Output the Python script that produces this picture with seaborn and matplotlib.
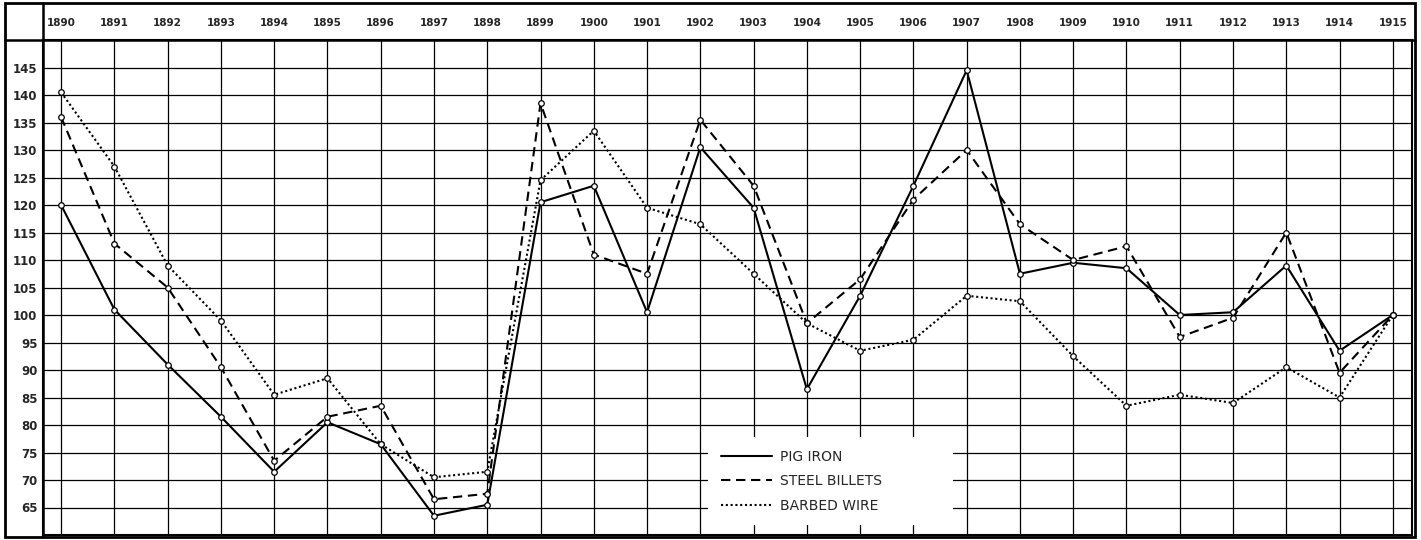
import pandas as pd
import seaborn as sns
import matplotlib.pyplot as plt
from matplotlib.lines import Line2D
from matplotlib.patches import Rectangle

# values (index numbers, 1915 = 100)
years = list(range(1890, 1916))
pig_iron = [120, 101, 91, 81.5, 71.5, 80.5, 76.5, 63.5, 65.5, 120.5, 123.5, 100.5, 130.5,
            119.5, 86.5, 103.5, 123.5, 144.5, 107.5, 109.5, 108.5, 100, 100.5, 109, 93.5, 100]
steel_billets = [136, 113, 105, 90.5, 73.5, 81.5, 83.5, 66.5, 67.5, 138.5, 111, 107.5, 135.5,
                 123.5, 98.5, 106.5, 121, 130, 116.5, 110, 112.5, 96, 99.5, 115, 89.5, 100]
barbed_wire = [140.5, 127, 109, 99, 85.5, 88.5, 76.5, 70.5, 71.5, 124.5, 133.5, 119.5, 116.5,
               107.5, 98.5, 93.5, 95.5, 103.5, 102.5, 92.5, 83.5, 85.5, 84, 90.5, 85, 100]
series_names = ["PIG IRON", "STEEL BILLETS", "BARBED WIRE"]
y_ticks = list(range(65, 150, 5))

df = pd.DataFrame({
    "year": years * 3,
    "value": pig_iron + steel_billets + barbed_wire,
    "series": [n for n in series_names for _ in years],
})

sns.set_style("white")
plt.rcParams["font.family"] = ["DejaVu Sans"]

W, H = 1421, 540
fig = plt.figure(figsize=(W / 100, H / 100), dpi=100)
ax = fig.add_axes([43 / W, 5 / H, 1369 / W, 495 / H])

sns.lineplot(data=df, x="year", y="value", style="series", color="black",
             dashes={series_names[0]: "", series_names[1]: (4.5, 2.7), series_names[2]: (1, 1.3)},
             markers={n: "o" for n in series_names}, markersize=4,
             markerfacecolor="white", markeredgecolor="black", markeredgewidth=0.9,
             linewidth=1.5, sort=False, ax=ax)

ax.set_xlim(1889.66, 1915.36)
ax.set_ylim(60, 150)
ax.set_xticks(years)
ax.set_yticks(y_ticks)
ax.xaxis.tick_top()
ax.tick_params(axis="x", length=0, pad=9, labelsize=7.5)
ax.tick_params(axis="y", length=0, pad=4, labelsize=8.5)
for lab in ax.get_xticklabels() + ax.get_yticklabels():
    lab.set_fontweight("bold")
ax.set_xlabel("")
ax.set_ylabel("")
ax.set_axisbelow(True)
ax.grid(True, color="black", linewidth=0.9)
for s in ax.spines.values():
    s.set_color("black")
    s.set_linewidth(1.5)

# legend without markers, on a white patch over the grid
old = ax.get_legend()
handles = old.legend_handles
labels = [t.get_text() for t in old.texts]
old.remove()
for h in handles:
    h.set_marker("")
    h.set_linewidth(1.5)
leg = ax.legend(handles, labels, loc="lower left", mode="expand",
                bbox_to_anchor=((708 - 43) / 1369, 10 / 495, (953 - 708) / 1369, 0.3),
                frameon=True, facecolor="white", edgecolor="none", framealpha=1,
                fancybox=False, borderpad=0.9, borderaxespad=0, handlelength=3.7,
                handletextpad=0.6, labelspacing=0.75, fontsize=10)
leg.set_zorder(5)

# outer frame, header row and label column
fig.add_artist(Rectangle((5 / W, 3 / H), 1410 / W, 534 / H, transform=fig.transFigure,
                         fill=False, edgecolor="black", linewidth=2))
fig.add_artist(Line2D([5 / W, 1415 / W], [500 / H, 500 / H], transform=fig.transFigure,
                      color="black", linewidth=1.8))
fig.add_artist(Line2D([43 / W, 43 / W], [3 / H, 537 / H], transform=fig.transFigure,
                      color="black", linewidth=1.8))

fig.savefig("out.png", dpi=100, facecolor="white")
